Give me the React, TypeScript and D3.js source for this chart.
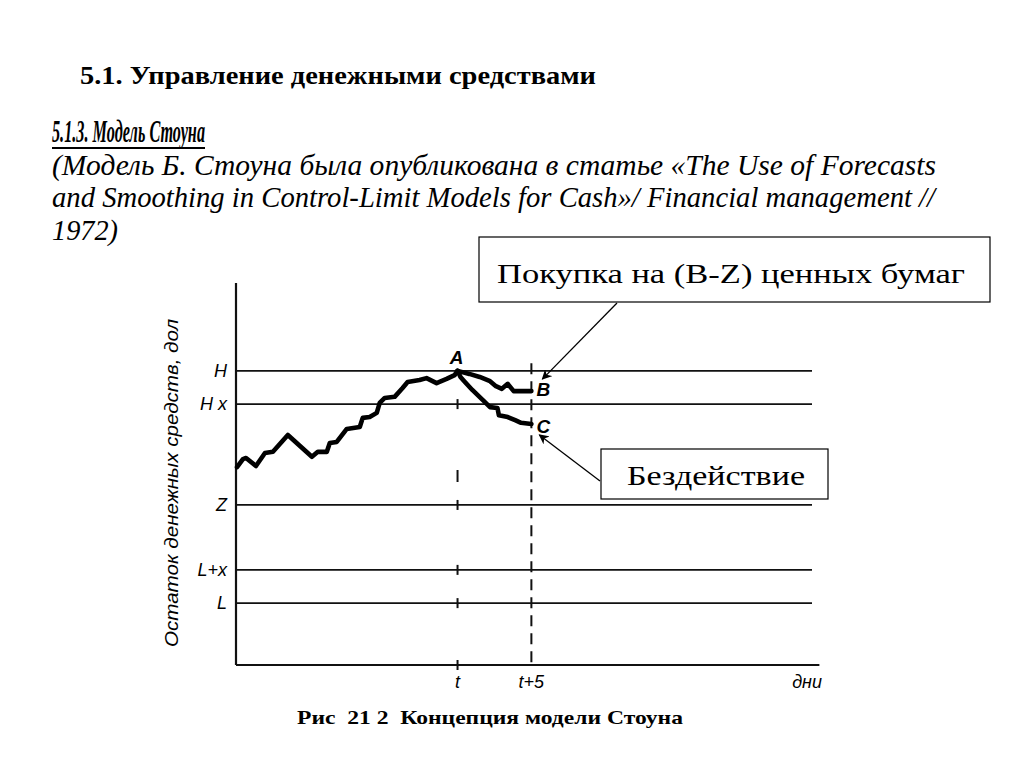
import React, {useEffect, useRef} from "react";
import * as d3 from "d3";

// уровни остатка денежных средств (условные единицы)
const levelNames = ["H", "H x", "Z", "L+x", "L"]
const levelValues = [77, 68.3, 41.9, 24.9, 16.2]

// дни
const tDay = 15
const t5Day = 20
const dayTicks = [tDay, t5Day]
const dayTickLabels = ["t", "t+5"]

// путь остатка до точки A
const pathDays = [0.07, 0.47, 0.68, 1.35, 1.96, 2.5, 3.51, 5.14, 5.54, 6.15, 6.35, 6.82, 7.5, 8.38, 8.58, 9.05, 9.53, 9.73, 10.07, 10.74, 11.28, 11.62, 12.43, 12.9, 13.58, 14.26, 14.8, 15]
const pathValues = [51.8, 53.9, 54.2, 52.1, 55.5, 55.8, 60.2, 54.5, 55.8, 55.8, 58.1, 58.4, 61.8, 62.3, 64.7, 64.9, 66.0, 68.6, 69.9, 70.2, 72.5, 74.1, 74.6, 75.1, 73.8, 74.9, 75.9, 77]

// ветка B (с покупкой)
const bDays = [15, 15.8, 16.5, 17.2, 17.6, 18.0, 18.4, 18.8, 19.3, 20]
const bValues = [77, 76.2, 75.4, 74.3, 73.0, 72.3, 73.6, 71.7, 71.7, 71.7]

// ветка C (без действий)
const cDays = [15, 15.2, 15.5, 16.0, 16.7, 17.2, 17.7, 17.8, 18.4, 18.9, 19.3, 20]
const cValues = [77, 75.4, 74.1, 72.0, 69.4, 67.5, 67.3, 65.4, 64.9, 64.1, 63.4, 63.1]

const serif = "'Liberation Serif', 'Times New Roman', serif"

const App = () => {
    const svgRef = useRef(null)

    useEffect(() => {
        const svg = d3.select(svgRef.current)
        svg.selectAll(".chart").remove()
        const g = svg.append("g").attr("class", "chart")

        const x = d3.scaleLinear().domain([0, 39]).range([236, 812])
        const y = d3.scaleLinear().domain([0, 100]).range([665, 283])

        const labelFont = "'Liberation Sans', Arial, sans-serif"

        // оси
        g.append("line").attr("x1", x(0)).attr("x2", x(0)).attr("y1", y(100)).attr("y2", y(0))
            .attr("stroke", "#111").attr("stroke-width", 2.2)
        g.append("line").attr("x1", x(0)).attr("x2", x(39.5)).attr("y1", y(0)).attr("y2", y(0))
            .attr("stroke", "#111").attr("stroke-width", 2)

        // уровни
        g.selectAll(".level").data(levelValues).join("line")
            .attr("class", "level")
            .attr("x1", x(0)).attr("x2", x(39))
            .attr("y1", d => y(d)).attr("y2", d => y(d))
            .attr("stroke", "#111").attr("stroke-width", 1.7)
        g.selectAll(".levelLabel").data(levelNames).join("text")
            .attr("class", "levelLabel")
            .attr("x", 227)
            .attr("y", (d, i) => y(levelValues[i]) + 6)
            .attr("text-anchor", "end")
            .attr("font-family", labelFont).attr("font-style", "italic")
            .attr("font-size", 18)
            .text(d => d)

        // засечки t
        g.selectAll(".tTick").data([levelValues[1], levelValues[2], levelValues[3], levelValues[4], 0]).join("line")
            .attr("class", "tTick")
            .attr("x1", x(tDay)).attr("x2", x(tDay))
            .attr("y1", d => y(d) - 5).attr("y2", d => y(d) + 5)
            .attr("stroke", "#111").attr("stroke-width", 2)
        g.append("line").attr("x1", x(tDay)).attr("x2", x(tDay)).attr("y1", 470).attr("y2", 482)
            .attr("stroke", "#111").attr("stroke-width", 2)

        // пунктир t+5
        g.append("line").attr("x1", x(t5Day)).attr("x2", x(t5Day)).attr("y1", y(79)).attr("y2", y(0))
            .attr("stroke", "#111").attr("stroke-width", 2).attr("stroke-dasharray", "11,7")

        // подписи оси дней
        g.selectAll(".dayLabel").data(dayTicks).join("text")
            .attr("class", "dayLabel")
            .attr("x", d => x(d)).attr("y", 688)
            .attr("text-anchor", "middle")
            .attr("font-family", labelFont).attr("font-style", "italic").attr("font-size", 18)
            .text((d, i) => dayTickLabels[i])
        g.append("text").attr("x", 822).attr("y", 688).attr("text-anchor", "end")
            .attr("font-family", labelFont).attr("font-style", "italic").attr("font-size", 18)
            .text("дни")

        // подпись оси Y
        g.append("text")
            .attr("transform", "translate(178,483) rotate(-90)")
            .attr("text-anchor", "middle")
            .attr("font-family", labelFont).attr("font-style", "italic").attr("font-size", 18)
            .attr("textLength", 328).attr("lengthAdjust", "spacingAndGlyphs")
            .text("Остаток денежных средств, дол")

        // кривые
        const line = d3.line<number>()
            .x(d => x(d))
        const drawSeries = (days: number[], values: number[]) => {
            g.append("path")
                .datum(days)
                .attr("d", line.y((d, i) => y(values[i])))
                .attr("fill", "none").attr("stroke", "#000").attr("stroke-width", 4.6)
                .attr("stroke-linejoin", "round").attr("stroke-linecap", "round")
        }
        drawSeries(pathDays, pathValues)
        drawSeries(bDays, bValues)
        drawSeries(cDays, cValues)

        // буквы A, B, C
        const letters = [
            {t: "A", d: tDay, v: pathValues[pathValues.length - 1], dx: -1, dy: -7},
            {t: "B", d: t5Day, v: bValues[bValues.length - 1], dx: 12, dy: 5},
            {t: "C", d: t5Day, v: cValues[cValues.length - 1], dx: 12, dy: 9},
        ]
        g.selectAll(".letter").data(letters).join("text")
            .attr("class", "letter")
            .attr("x", d => x(d.d) + d.dx).attr("y", d => y(d.v) + d.dy)
            .attr("text-anchor", "middle")
            .attr("font-family", labelFont).attr("font-style", "italic").attr("font-weight", "bold")
            .attr("font-size", 19)
            .text(d => d.t)

        // стрелки
        const arrows = [
            {x1: 617, y1: 303, x2: x(t5Day) + 11, y2: y(bValues[bValues.length - 1]) - 12},
            {x1: 600, y1: 481, x2: x(t5Day) + 8, y2: y(cValues[cValues.length - 1]) + 11},
        ]
        g.selectAll(".arrow").data(arrows).join("line")
            .attr("class", "arrow")
            .attr("x1", d => d.x1).attr("y1", d => d.y1)
            .attr("x2", d => d.x2).attr("y2", d => d.y2)
            .attr("stroke", "#000").attr("stroke-width", 1.3)
            .attr("marker-end", "url(#arrowHead)")
    }, [])

    return (
        <svg ref={svgRef} width={1024} height={767} viewBox={"0 0 1024 767"}
             style={{position: "absolute", left: 0, top: 0, background: "#fff"}}>
            <defs>
                <marker id="arrowHead" viewBox="0 0 10 10" refX="9" refY="5" markerWidth="10" markerHeight="10"
                        orient="auto" markerUnits="userSpaceOnUse">
                    <path d="M0,0 L10,5 L0,10 L3,5 Z" fill="#000"/>
                </marker>
            </defs>
            <text x={80} y={84} fontFamily={serif} fontWeight="bold" fontSize={25}
                  textLength={516} lengthAdjust="spacingAndGlyphs">5.1. Управление денежными средствами</text>
            <text x={52} y={142} fontFamily={serif} fontWeight="bold" fontStyle="italic"
                  fontSize={31} textLength={153} lengthAdjust="spacingAndGlyphs">5.1.3. Модель Стоуна</text>
            <line x1={52} x2={205} y1={148} y2={148} stroke="#000" strokeWidth={1.8}/>
            <text x={52} y={175} fontFamily={serif} fontStyle="italic" fontSize={29} textLength={884}
                  lengthAdjust="spacingAndGlyphs">(Модель Б. Стоуна была опубликована в статье «The Use of Forecasts</text>
            <text x={52} y={207} fontFamily={serif} fontStyle="italic" fontSize={29} textLength={883}
                  lengthAdjust="spacingAndGlyphs">and Smoothing in Control-Limit Models for Cash»/ Financial management //</text>
            <text x={52} y={240} fontFamily={serif} fontStyle="italic" fontSize={29} textLength={66}
                  lengthAdjust="spacingAndGlyphs">1972)</text>
            <rect x={479} y={237} width={511} height={65} fill="#fff" stroke="#000" strokeWidth={1.2}/>
            <text x={497} y={283} fontFamily={serif} fontSize={28}
                  textLength={468} lengthAdjust="spacingAndGlyphs">Покупка на (B-Z) ценных бумаг</text>
            <rect x={601} y={449} width={227} height={50} fill="#fff" stroke="#000" strokeWidth={1.2}/>
            <text x={627} y={485} fontFamily={serif} fontSize={28}
                  textLength={178} lengthAdjust="spacingAndGlyphs">Бездействие</text>
            <text x={297} y={724} fontFamily={serif} fontWeight="bold" fontSize={19}
                  textLength={386} lengthAdjust="spacingAndGlyphs" xmlSpace="preserve">Рис  21 2  Концепция модели Стоуна</text>
        </svg>
    );
};

export default App;
